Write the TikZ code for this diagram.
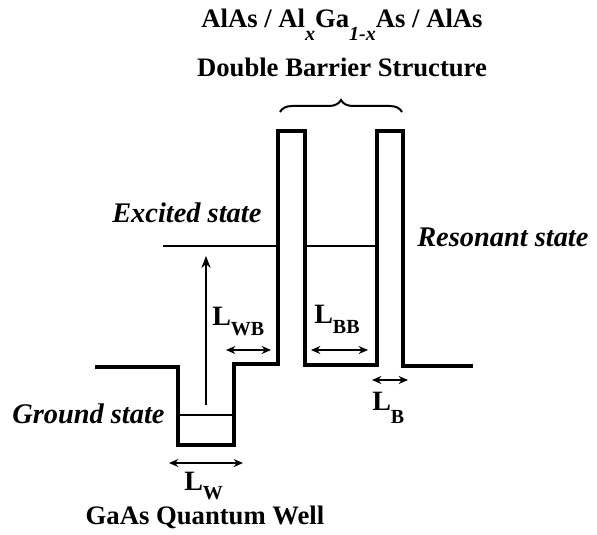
\documentclass[tikz,border=0pt]{standalone}
\usepackage{fontspec}
\setmainfont{Liberation Serif}
\usetikzlibrary{arrows.meta,decorations.pathreplacing}
\begin{document}
\begin{tikzpicture}[x=0.75pt,y=-0.75pt,
  profile/.style={line width=3pt, line join=miter},
  level/.style={line width=0.9pt},
  dim/.style={line width=1.1pt,{Stealth[length=7pt,width=6pt]}-{Stealth[length=7pt,width=6pt]}},
  lbl/.style={font=\bfseries\fontsize{21}{24}\selectfont, inner sep=0pt, anchor=base west},
  state/.style={font=\bfseries\itshape\fontsize{21.3}{24}\selectfont, inner sep=0pt, anchor=base west},
  title/.style={font=\bfseries\fontsize{20}{23}\selectfont, inner sep=0pt, anchor=base},
]
\useasboundingbox (0,0) rectangle (597,535);
\fill[white] (0,0) rectangle (597,535);

% band profile
\draw[profile] (95,367) -- (178,367) -- (178,445) -- (234,445) -- (234,364)
  -- (278,364) -- (278,131) -- (305,131) -- (305,365) -- (377,365) -- (377,131)
  -- (403,131) -- (403,366) -- (473,366);

% levels
\coordinate (g1) at (178,415); \coordinate (g2) at (234,415);
\coordinate (e1) at (163,246); \coordinate (e2) at (278,246);
\coordinate (r1) at (305,246); \coordinate (r2) at (377,246);
\draw[level] (g1) -- (g2);
\draw[level] (e1) -- (e2);
\draw[level] (r1) -- (r2);

% transition arrow
\coordinate (t1) at (206,405); \coordinate (t2) at (206,256);
\draw[level,-{Stealth[length=9pt,width=7pt]}] (t1) -- (t2);

% dimension arrows
\coordinate (wb1) at (226,350); \coordinate (wb2) at (271,350);
\coordinate (bb1) at (311,350); \coordinate (bb2) at (368,350);
\coordinate (b1) at (372,380); \coordinate (b2) at (408,380);
\coordinate (w1) at (169,463); \coordinate (w2) at (243,463);
\draw[dim] (wb1) -- (wb2);
\draw[dim] (bb1) -- (bb2);
\draw[dim] (b1) -- (b2);
\draw[dim] (w1) -- (w2);

% dimension labels
\node[lbl] (lwb) at (212,325) {L\raisebox{-7.5pt}{\fontsize{15}{16}\selectfont WB}};
\node[lbl] (lbb) at (314,323) {L\raisebox{-7.5pt}{\fontsize{15}{16}\selectfont BB}};
\node[lbl] (lb) at (372,410) {L\raisebox{-10pt}{\fontsize{15}{16}\selectfont B}};
\node[lbl] (lw) at (184,490) {L\raisebox{-7pt}{\fontsize{15}{16}\selectfont W}};

% state labels
\node[state] (gs) at (12,423) {Ground state};
\node[state] (es) at (112,223) {Excited state};
\node[state] (rs) at (417,247) {Resonant state};

% titles
\node[title] (qw) at (205,524) {GaAs Quantum Well};
\node[title] (t1l) at (342,28) {AlAs / Al\raisebox{-9.5pt}{\itshape\fontsize{15}{15}\selectfont x}Ga\raisebox{-9.5pt}{\itshape\fontsize{15}{15}\selectfont 1-x}As / AlAs};
\node[title] (t2l) at (342,77) {Double Barrier Structure};

% brace
\draw[line width=1.5pt,decorate,decoration={brace,amplitude=9pt}] (280,112) -- (402,112);
\end{tikzpicture}
\end{document}
